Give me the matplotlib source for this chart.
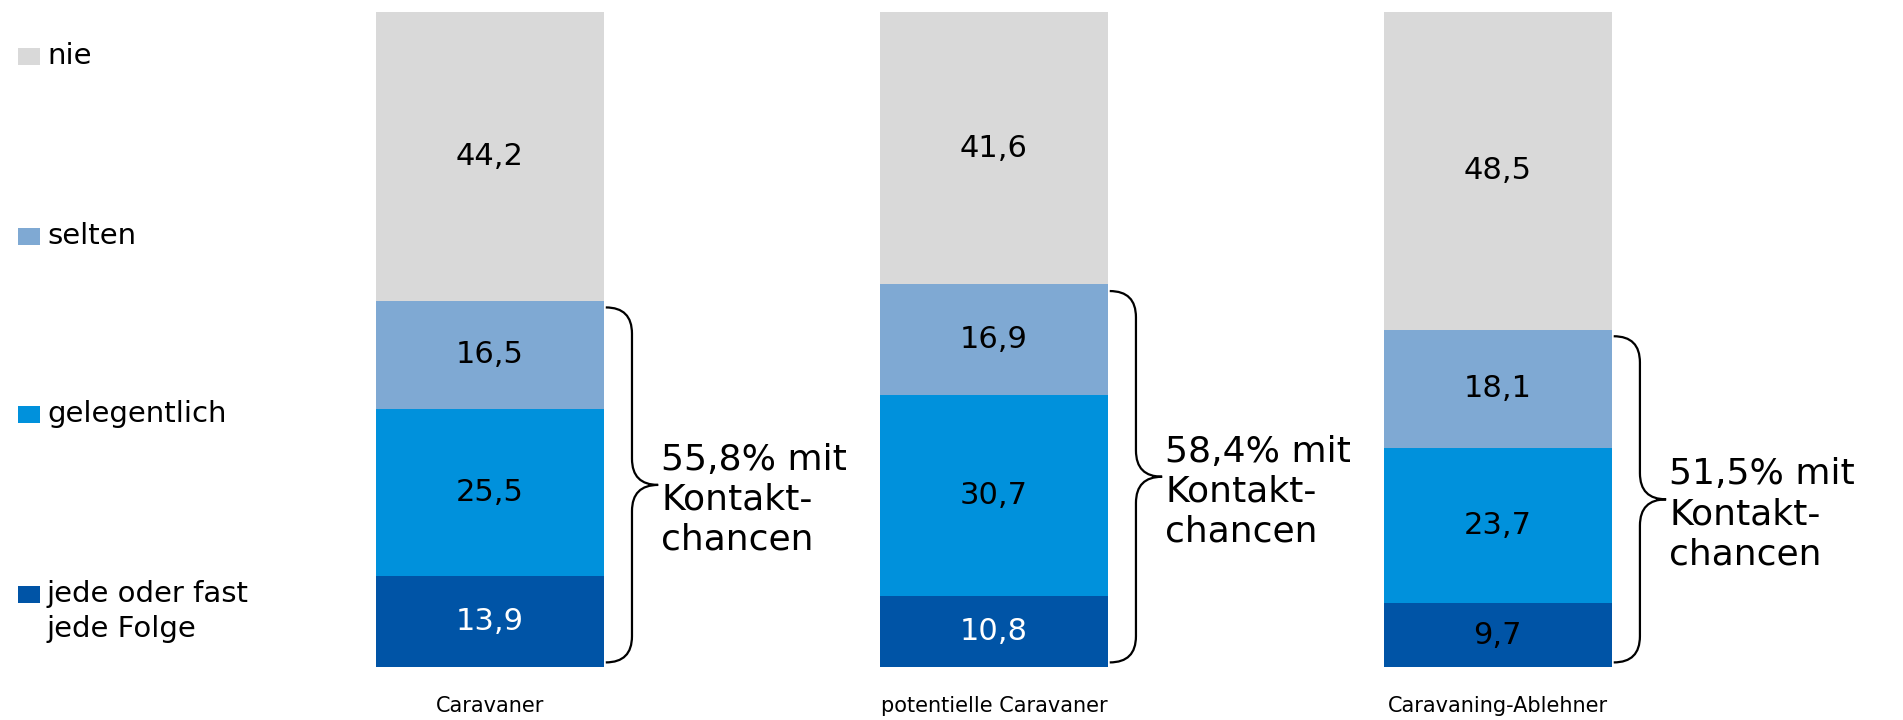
import matplotlib
matplotlib.use('Agg')
import matplotlib.pyplot as plt
from matplotlib.patches import Rectangle, PathPatch
from matplotlib.path import Path

#data
groups = ['Caravaner', 'potentielle Caravaner', 'Caravaning-Ablehner']
jede = [13.9, 10.8, 9.7]
gelegentlich = [25.5, 30.7, 23.7]
selten = [16.5, 16.9, 18.1]
nie = [44.2, 41.6, 48.5]
kontakt = ['55,8', '58,4', '51,5']

series = [jede, gelegentlich, selten, nie]
names = ['jede oder fast\njede Folge', 'gelegentlich', 'selten', 'nie']
colors = ['#0054A6', '#0091DC', '#7FA9D3', '#D9D9D9']
dark_txt = ['white', 'white', 'black']

plt.rcParams['font.family'] = ['DejaVu Sans']

fig = plt.figure(figsize=(19.03, 7.2), dpi=100)
ax = fig.add_axes([0, 0.0736, 1, 0.9097])

x = [0, 1, 2]
w = 0.452
bottom = [0, 0, 0]
for k in range(4):
    ax.bar(x, series[k], w, bottom=bottom, color=colors[k], linewidth=0)
    for i in range(3):
        tc = 'black'
        if k == 0:
            tc = dark_txt[i]
        ax.text(x[i], bottom[i] + series[k][i] / 2, str(series[k][i]).replace('.', ','),
                ha='center', va='center', fontsize=22, color=tc)
    bottom = [bottom[i] + series[k][i] for i in range(3)]

#curly braces + label
for i in range(3):
    top = jede[i] + gelegentlich[i] + selten[i] - 1.0
    bot = 0.7
    mid = (top + bot) / 2
    x0 = x[i] + w / 2 + 0.004
    x1 = x0 + 0.052
    x2 = x0 + 0.104
    r = 4.0
    verts = [(x0, top), (x1, top), (x1, top - r),
             (x1, mid + r), (x1, mid), (x2, mid),
             (x1, mid), (x1, mid - r),
             (x1, bot + r), (x1, bot), (x0, bot)]
    codes = [Path.MOVETO, Path.CURVE3, Path.CURVE3,
             Path.LINETO, Path.CURVE3, Path.CURVE3,
             Path.CURVE3, Path.CURVE3,
             Path.LINETO, Path.CURVE3, Path.CURVE3]
    ax.add_patch(PathPatch(Path(verts, codes), fill=False, lw=1.6, color='black'))
    ax.text(x0 + 0.11, mid - 2.3, kontakt[i] + '% mit\nKontakt-\nchancen',
            ha='left', va='center', fontsize=26, linespacing=1.22)

ax.set_xlim(-0.972, 2.804)
ax.set_ylim(0, 100)
ax.set_xticks(x)
ax.set_xticklabels(groups, fontsize=15)
ax.tick_params(axis='x', length=0, pad=21)
ax.set_yticks([])
for s in ax.spines.values():
    s.set_visible(False)

#legend drawn by hand
leg_y = [595, 415, 237, 57]
for k in range(4):
    yc = 1 - leg_y[k] / 720
    fig.add_artist(Rectangle((18 / 1903, yc - 8 / 720), 22 / 1903, 17 / 720,
                             transform=fig.transFigure, color=colors[k], lw=0))
    fig.text(47 / 1903, yc + 15 / 720, names[k], ha='left', va='top',
             fontsize=21, linespacing=1.3)

fig.savefig('out.png', dpi=100)
